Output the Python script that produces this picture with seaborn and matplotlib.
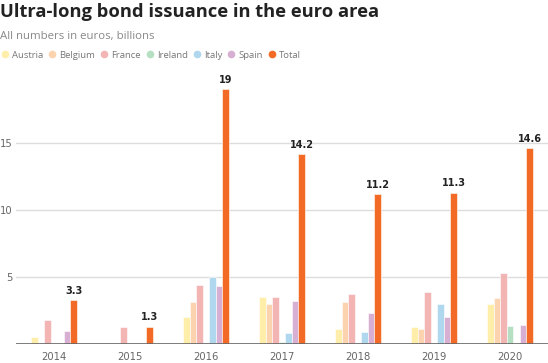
import matplotlib
matplotlib.use("Agg")
import matplotlib.pyplot as plt
from matplotlib.lines import Line2D
import seaborn as sns
import pandas as pd

years = ["2014", "2015", "2016", "2017", "2018", "2019", "2020"]
countries = ["Austria", "Belgium", "France", "Ireland", "Italy", "Spain", "Total"]
austria = [0.5, 0.0, 2.0, 3.5, 1.1, 1.25, 3.0]
belgium = [0.0, 0.0, 3.1, 3.0, 3.1, 1.1, 3.4]
france = [1.8, 1.25, 4.4, 3.5, 3.7, 3.9, 5.3]
ireland = [0.0, 0.0, 0.05, 0.15, 0.1, 0.05, 1.35]
italy = [0.0, 0.0, 5.0, 0.8, 0.9, 3.0, 0.0]
spain = [1.0, 0.0, 4.35, 3.2, 2.3, 2.0, 1.45]
total = [3.3, 1.3, 19, 14.2, 11.2, 11.3, 14.6]
colors = ["#FFEEAA", "#FBD3AF", "#F2B5B4", "#B6DFC2", "#AFD7EE", "#D7AFD3", "#F26A26"]

series = [austria, belgium, france, ireland, italy, spain, total]
rows = []
for c, vals in zip(countries, series):
    for y, v in zip(years, vals):
        rows.append({"year": y, "country": c, "value": v})
df = pd.DataFrame(rows)

sns.set_style("white")
plt.rcParams["font.family"] = ["DejaVu Sans"]

fig = plt.figure(figsize=(5.48, 3.63), dpi=100)
ax = fig.add_axes([16 / 548, 1 - 344 / 363, 1 - 16 / 548, (344 - 76) / 363])

sns.barplot(data=df, x="year", y="value", hue="country", hue_order=countries,
            palette=colors, width=0.6, gap=0, edgecolor="white", linewidth=0.4,
            legend=False, ax=ax, errorbar=None, saturation=1)

ax.set_ylim(0, 20)
ax.set_xlim(-0.5, 6.5)
ax.set_yticks([5, 10, 15])
ax.set_yticklabels(["5", "10", "15"])
ax.yaxis.grid(True, color="#dddddd", linewidth=1)
ax.set_axisbelow(True)
for s in ax.spines.values():
    s.set_visible(False)
ax.axhline(0, color="#666666", linewidth=1.2, zorder=5)
ax.set_xlabel("")
ax.set_ylabel("")
ax.tick_params(axis="both", length=0, colors="#666666", labelsize=7.2)
ax.tick_params(axis="y", pad=2.5)
ax.tick_params(axis="x", pad=6)

tot_container = ax.containers[-1]
ax.bar_label(tot_container, labels=[f"{v:g}" for v in total], padding=3,
             fontsize=7, fontweight="bold", color="#222222")

fig.text(0.0, 1 - 12 / 363, "Ultra-long bond issuance in the euro area",
         fontsize=13.2, fontweight="bold", family=["Open Sans", "DejaVu Sans"],
         color="#222222", va="center", ha="left")
fig.text(0.0, 1 - 36 / 363, "All numbers in euros, billions",
         fontsize=8.2, family=["Open Sans", "DejaVu Sans"], color="#888888",
         va="center", ha="left")

handles = [Line2D([0], [0], marker="o", linestyle="", markersize=4.5,
                  markerfacecolor=c, markeredgecolor=c) for c in colors]
leg = fig.legend(handles, countries, loc="center left",
                 bbox_to_anchor=(-0.014, 1 - 55 / 363), ncol=7, frameon=False,
                 handletextpad=0.3, columnspacing=0.5, handlelength=0.9,
                 prop={"family": "Open Sans", "size": 6.8})
for t in leg.get_texts():
    t.set_color("#777777")

fig.savefig("out.png", dpi=100)
